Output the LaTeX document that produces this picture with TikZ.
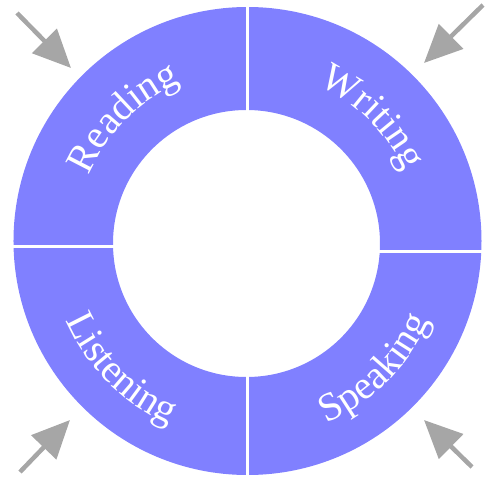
\documentclass[tikz,border=0pt]{standalone}
\usepackage{fontspec}
\setmainfont{Liberation Serif}
\usetikzlibrary{arrows.meta,decorations.text}

\newcommand{\skillfont}{\fontsize{40}{44}\selectfont\color{white}}

\tikzset{
  ring/.style={fill=blue!50, even odd rule},
  cut/.style={white, line width=3pt},
  skillarrow/.style={gray!70, line width=4.5pt, -{Triangle[length=38pt,width=34pt]}},
  skill/.style={decorate, decoration={text along path, text align=center, text={|\skillfont|#1}}},
}

\begin{document}
\begin{tikzpicture}[x=1pt,y=1pt]
  \useasboundingbox (-247.5,-238) rectangle (239.5,242);

  % the ring and its four cuts
  \fill[ring] (0,1) circle[radius=234pt] (-1,-1.5) circle[radius=133.5pt];
  \draw[cut] (0.5,100) -- (0.5,242);
  \draw[cut] (0.5,-100) -- (0.5,-238);
  \draw[cut] (-100,-4) -- (-247.5,-4);
  \draw[cut] (100,-9) -- (239.5,-9);

  % labels along the ring
  \path[skill=Reading] (180:172pt) arc[start angle=180, end angle=90, radius=172pt];
  \path[skill=Writing] (90:172pt) arc[start angle=90, end angle=0, radius=172pt];
  \path[skill=Listening] (180:198pt) arc[start angle=180, end angle=270, radius=198pt];
  \path[skill=Speaking] (270:198pt) arc[start angle=270, end angle=360, radius=198pt];

  % arrows at the corners
  \coordinate (nw0) at (-230.5,229);
  \coordinate (nw1) at (-176.5,174);
  \coordinate (ne0) at (235.5,237);
  \coordinate (ne1) at (176.5,179);
  \coordinate (se0) at (224.5,-225);
  \coordinate (se1) at (176.5,-178);
  \coordinate (sw0) at (-227.5,-230);
  \coordinate (sw1) at (-177.5,-178);

  \draw[skillarrow] (nw0) -- (nw1);
  \draw[skillarrow] (ne0) -- (ne1);
  \draw[skillarrow] (se0) -- (se1);
  \draw[skillarrow] (sw0) -- (sw1);
\end{tikzpicture}
\end{document}
